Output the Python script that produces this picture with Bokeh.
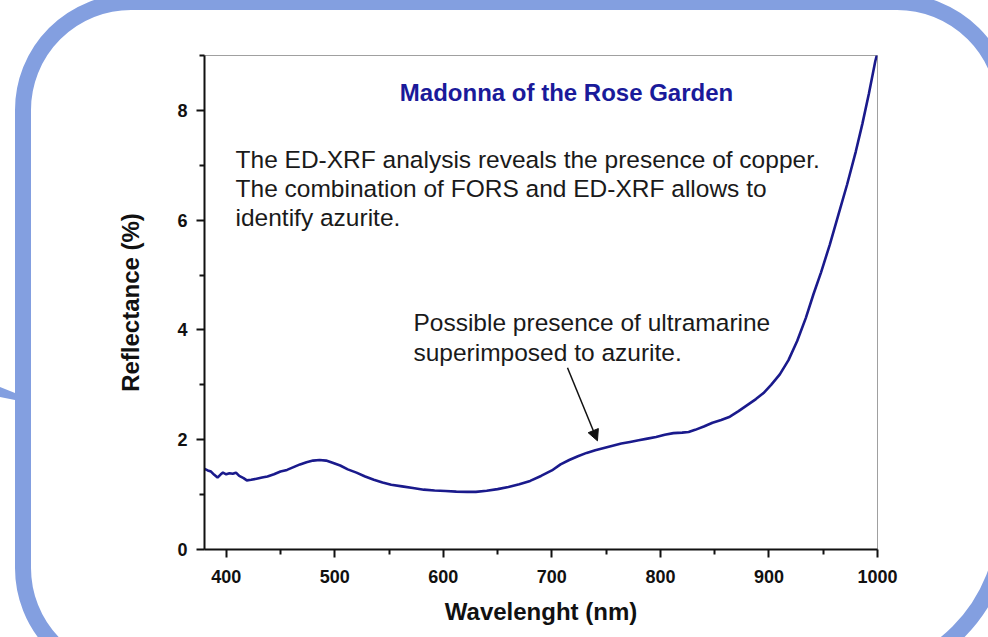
from urllib.parse import quote
from bokeh.plotting import figure
from bokeh.models import FixedTicker, Label, Arrow, NormalHead, Range1d
from bokeh.embed import file_html
from bokeh.resources import INLINE

# ---- data ----
wavelength = [380, 383, 386, 389, 392, 395, 397, 400, 403, 406, 409, 412, 416,
              419, 423, 428, 433, 438, 444, 450, 456, 462, 468, 474, 480, 486,
              492, 498, 505, 512, 520, 528, 536, 544, 552, 562, 572, 582, 592,
              602, 612, 622, 630, 640, 650, 660, 670, 680, 690, 700, 708, 716,
              724, 732, 740, 748, 756, 764, 772, 780, 788, 796, 804, 812, 820,
              826, 832, 840, 848, 856, 864, 872, 880, 888, 895, 902, 910, 918,
              926, 934, 941, 948, 956, 964, 972, 980, 986, 992, 998, 1000]
reflectance = [1.47, 1.44, 1.42, 1.36, 1.31, 1.37, 1.40, 1.37, 1.39, 1.38, 1.40,
               1.34, 1.30, 1.26, 1.27, 1.29, 1.31, 1.33, 1.37, 1.42, 1.45, 1.50,
               1.55, 1.59, 1.62, 1.63, 1.62, 1.58, 1.53, 1.46, 1.40, 1.33, 1.27,
               1.22, 1.18, 1.15, 1.12, 1.09, 1.075, 1.065, 1.055, 1.05, 1.05,
               1.07, 1.10, 1.14, 1.19, 1.25, 1.34, 1.44, 1.55, 1.63, 1.70, 1.76,
               1.81, 1.85, 1.89, 1.93, 1.96, 1.99, 2.02, 2.05, 2.09, 2.12, 2.13,
               2.14, 2.18, 2.24, 2.31, 2.36, 2.42, 2.52, 2.63, 2.74, 2.85, 3.00,
               3.19, 3.45, 3.80, 4.22, 4.65, 5.05, 5.55, 6.10, 6.65, 7.25, 7.75,
               8.30, 8.90, 9.05]

x_major = [400, 500, 600, 700, 800, 900, 1000]
x_minor = [450, 550, 650, 750, 850, 950]
y_major = [0, 2, 4, 6, 8]
y_minor = [1, 3, 5, 7, 9]

title_text = "Madonna of the Rose Garden"
note1 = ["The ED-XRF analysis reveals the presence of copper.",
         "The combination of FORS and ED-XRF allows to",
         "identify azurite."]
note2 = ["Possible presence of ultramarine",
         "superimposed to azurite."]

FONT = "Liberation Sans"
LINE_COLOR = "#1a1a8c"
W, H = 988, 637

# decorative rounded frame of the slide (pure decoration, CSS background)
deco_svg = (
    f'<svg xmlns="http://www.w3.org/2000/svg" width="{W}" height="{H}" '
    f'viewBox="0 0 {W} {H}">'
    '<path d="M 23 110 A 108 108 0 0 1 131 2 L 897 2 '
    'A 108 108 0 0 1 1005 110 L 1005 519 A 160 160 0 0 1 845 679 '
    'L 131 676 A 108 108 0 0 1 23 568 Z" '
    'fill="none" stroke="#839FE0" stroke-width="16"/>'
    '<polygon points="0,387 15,393 15,400 0,397" fill="#839FE0"/>'
    '</svg>'
)
deco_url = "url(\"data:image/svg+xml;utf8," + quote(deco_svg) + "\")"

p = figure(width=W, height=H, output_backend="svg", toolbar_location=None,
           x_range=Range1d(380, 1000), y_range=Range1d(0, 9),
           min_border_left=204, min_border_right=111, min_border_top=55,
           min_border_bottom=88)
p.styles = {"background-image": deco_url, "background-repeat": "no-repeat",
            "background-size": f"{W}px {H}px", "background-position": "0px 0px",
            "background-color": "white"}
p.background_fill_color = "white"
p.border_fill_color = None
p.outline_line_color = "#a0a0a0"
p.outline_line_width = 1
p.xgrid.visible = False
p.ygrid.visible = False

for ax in (p.xaxis[0], p.yaxis[0]):
    ax.axis_line_width = 2
    ax.axis_line_color = "#111111"
    ax.major_tick_line_width = 2
    ax.minor_tick_line_width = 2
    ax.major_tick_line_color = "#111111"
    ax.minor_tick_line_color = "#111111"
    ax.major_tick_in = 0
    ax.major_tick_out = 8
    ax.minor_tick_in = 0
    ax.minor_tick_out = 5
    ax.major_label_text_font = FONT
    ax.major_label_text_font_style = "bold"
    ax.major_label_text_font_size = "18px"
    ax.major_label_text_color = "#111111"
    ax.axis_label_text_font = FONT
    ax.axis_label_text_font_style = "bold"
    ax.axis_label_text_font_size = "24px"
    ax.axis_label_text_color = "#111111"

p.xaxis[0].ticker = FixedTicker(ticks=x_major, minor_ticks=x_minor)
p.yaxis[0].ticker = FixedTicker(ticks=y_major, minor_ticks=y_minor)
p.xaxis[0].axis_label = "Wavelenght (nm)"
p.yaxis[0].axis_label = "Reflectance (%)"
p.xaxis[0].major_label_standoff = 12
p.yaxis[0].major_label_standoff = 9
p.xaxis[0].axis_label_standoff = 12
p.yaxis[0].axis_label_standoff = 30

p.line(wavelength, reflectance, line_color=LINE_COLOR, line_width=2.6)

p.add_layout(Label(x=713.5, y=8.33, text=title_text, text_align="center",
                   text_baseline="middle", text_font=FONT,
                   text_font_style="bold", text_font_size="24px",
                   text_color="#1a1a9a"))

for i, t in enumerate(note1):
    p.add_layout(Label(x=408.6, y=7.11 - i * 0.53, text=t, text_align="left",
                       text_baseline="middle", text_font=FONT,
                       text_font_size="24.5px", text_color="#1a1a1a"))
for i, t in enumerate(note2):
    p.add_layout(Label(x=572.5, y=4.13 - i * 0.545, text=t, text_align="left",
                       text_baseline="middle", text_font=FONT,
                       text_font_size="24.5px", text_color="#1a1a1a"))

p.add_layout(Arrow(x_start=714.4, y_start=3.31, x_end=742, y_end=1.98,
                   line_color="#111111", line_width=1.5,
                   end=NormalHead(size=11, fill_color="#111111",
                                  line_color="#111111")))

open("out.html", "w").write(file_html(p, INLINE))
